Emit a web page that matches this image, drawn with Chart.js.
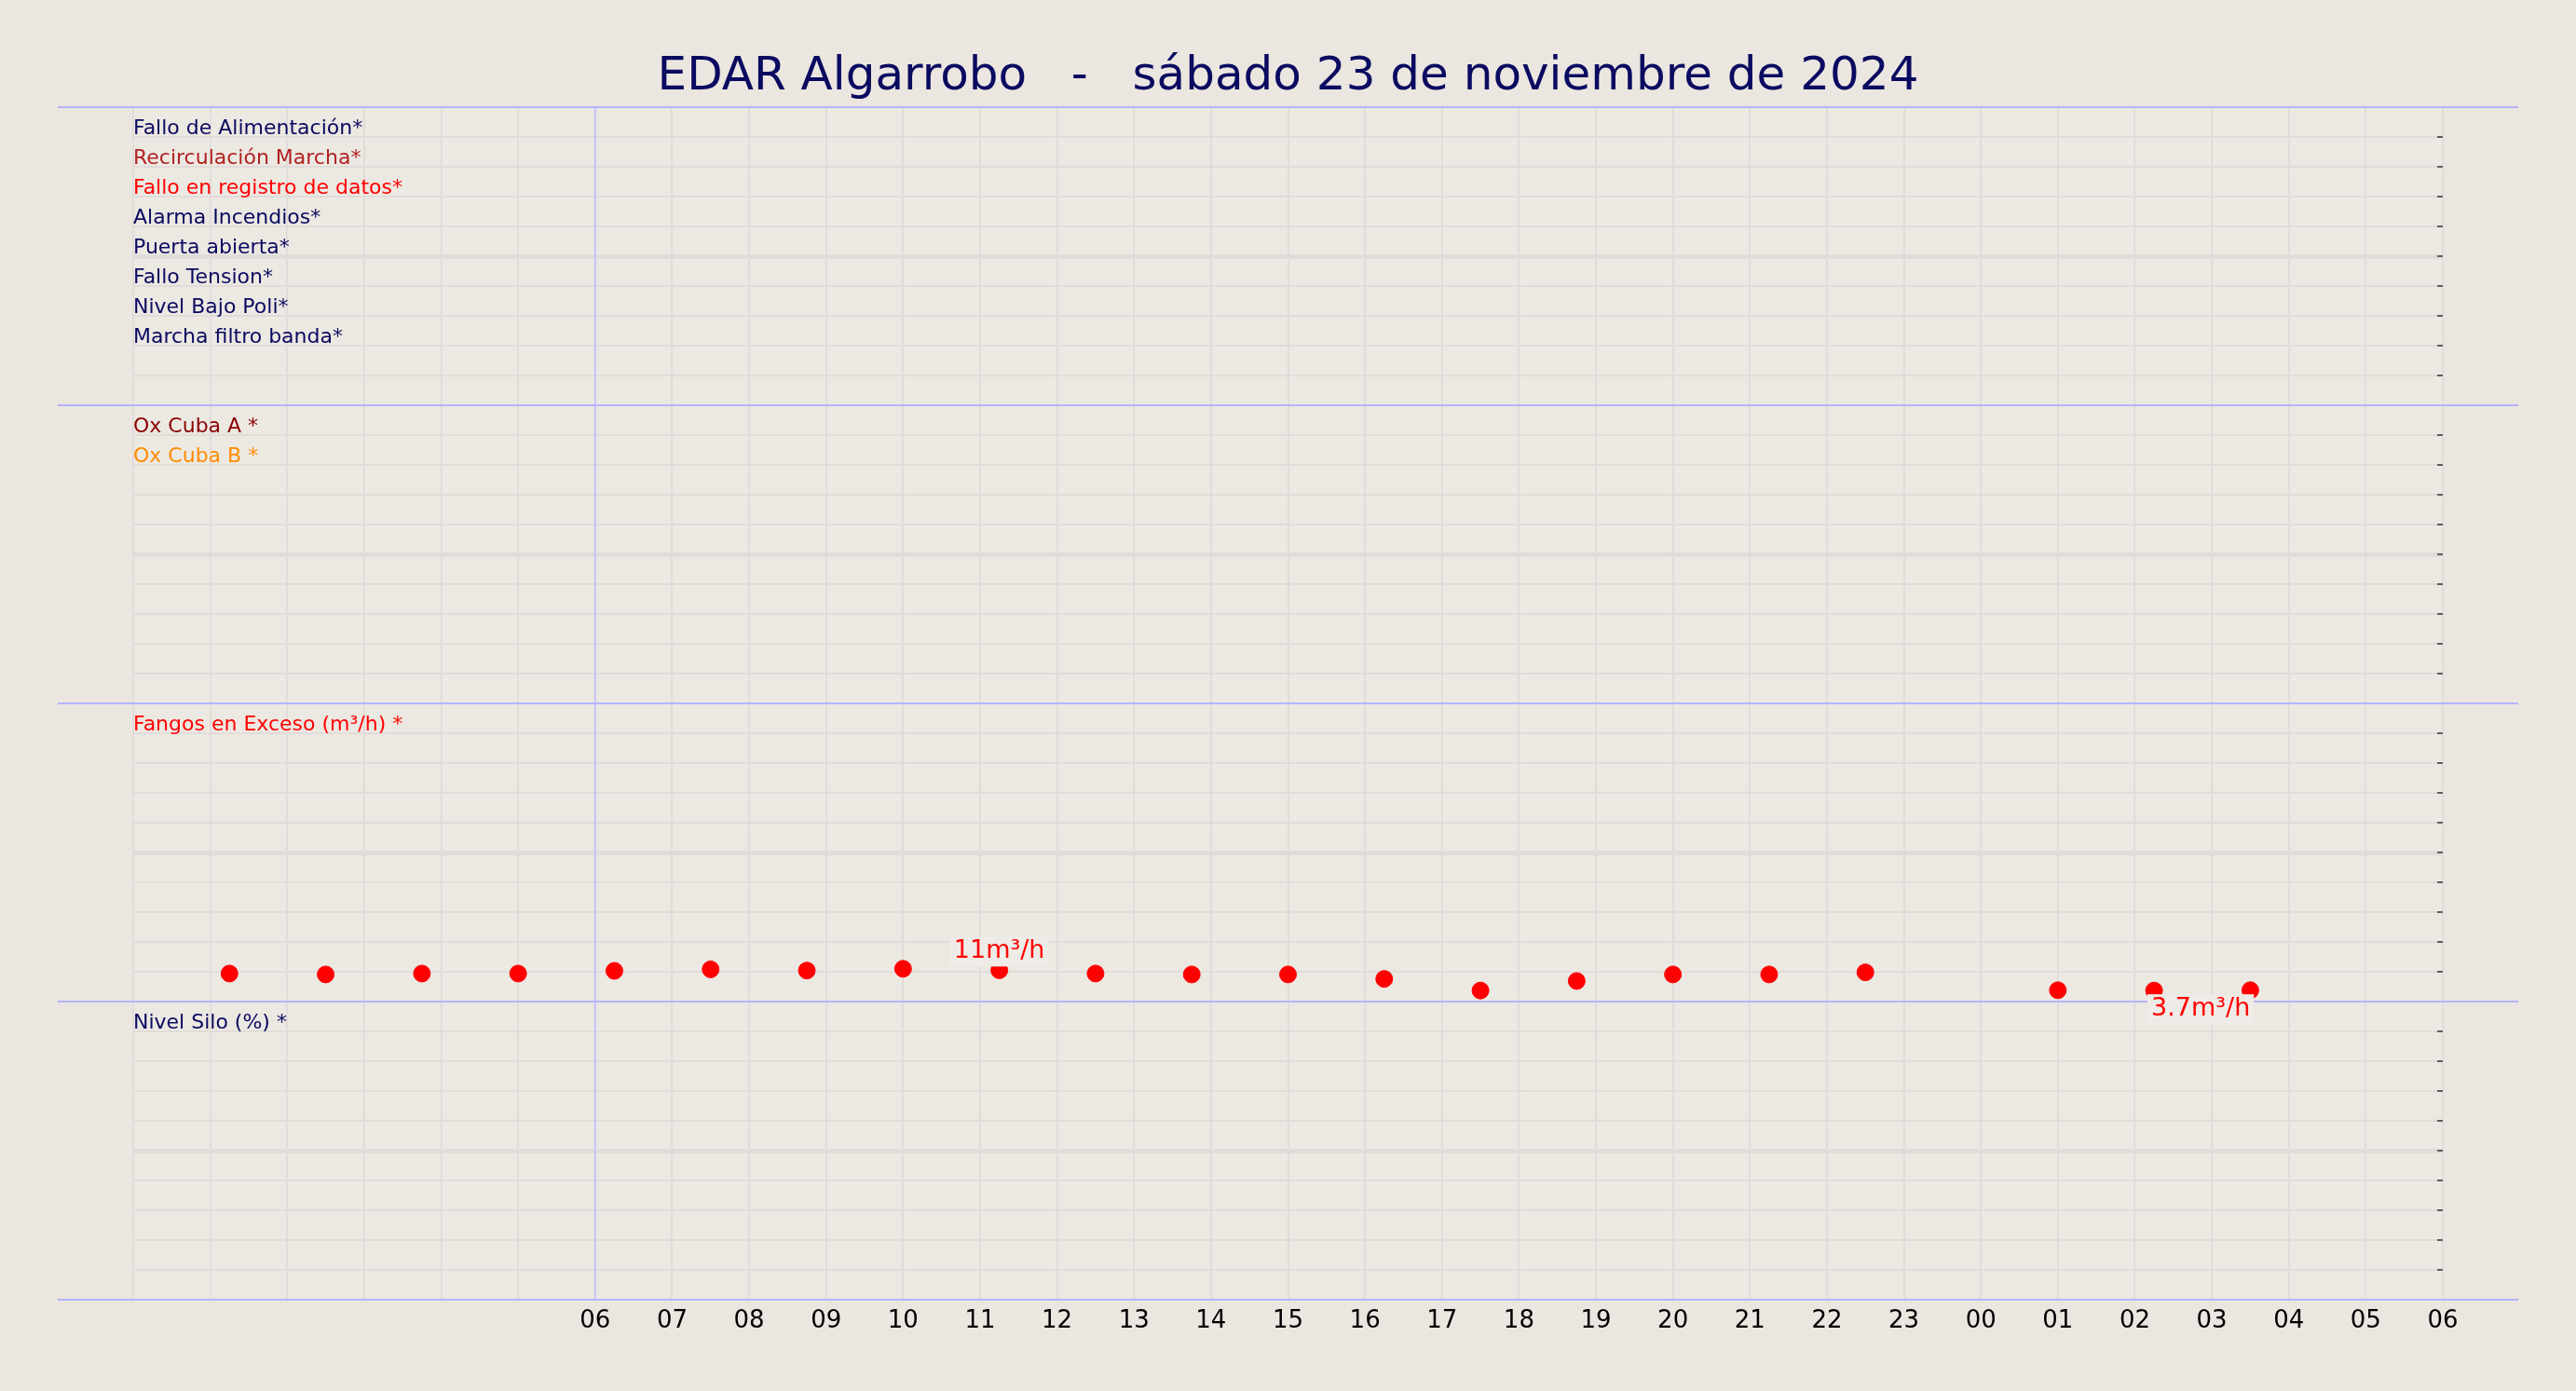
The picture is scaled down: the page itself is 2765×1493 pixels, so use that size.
<!DOCTYPE html>
<html><head><meta charset="utf-8">
<script src="https://cdn.jsdelivr.net/npm/chart.js@4/dist/chart.umd.min.js"></script>
<style>html,body{margin:0;padding:0;background:#ebe6e0;}#c{display:block}</style>
</head><body>
<div style="width:2765px;height:1493px;position:relative"><canvas id="c"></canvas></div>
<script>
const titleText = "EDAR Algarrobo   -   sábado 23 de noviembre de 2024";
const panel1Names = ["Fallo de Alimentación*","Recirculación Marcha*","Fallo en registro de datos*","Alarma Incendios*","Puerta abierta*","Fallo Tension*","Nivel Bajo Poli*","Marcha filtro banda*"];
const panel1Colors = ["#0a0a60","#b22222","#ff0000","#0a0a60","#0a0a60","#0a0a60","#0a0a60","#0a0a60"];
const panel2Names = ["Ox Cuba A *","Ox Cuba B *"];
const panel2Colors = ["#8b0000","#ff8c00"];
const panel3Names = ["Fangos en Exceso (m³/h) *"];
const panel3Colors = ["#ff0000"];
const panel4Names = ["Nivel Silo (%) *"];
const panel4Colors = ["#0a0a60"];
const fangosHours = [1.25,2.5,3.75,5,6.25,7.5,8.75,10,11.25,12.5,13.75,15,16.25,17.5,18.75,20,21.25,22.5,25,26.25,27.5];
const fangosValues = [9.4,9.1,9.4,9.4,10.3,10.8,10.4,11,10.5,9.4,9.1,9.1,7.6,3.7,6.9,9.1,9.1,9.8,3.8,3.7,3.8];
const annotations = [{idx:8,text:"11m³/h",above:true,dx:0},{idx:19,text:"3.7m³/h",above:false,dx:50}];

const FONT = "'DejaVu Sans', sans-serif";
const panels = [
  {axis:'y0',names:panel1Names,colors:panel1Colors},
  {axis:'y1',names:panel2Names,colors:panel2Colors},
  {axis:'y2',names:panel3Names,colors:panel3Colors},
  {axis:'y3',names:panel4Names,colors:panel4Colors}];

function yAxis(){
  return {type:'linear',position:'left',stack:'p',stackWeight:1,min:0,max:100,
    ticks:{display:false,stepSize:10},border:{display:false},
    grid:{drawTicks:false,color:'#e1dcd9',lineWidth:c=>c.tick&&c.tick.value===50?5:2},
    afterFit:s=>{s.width=0;}};
}
const deco = {
  id:'deco',
  beforeDraw(chart){
    const {ctx,chartArea:a}=chart;
    ctx.save();ctx.fillStyle='#ece8e2';ctx.fillRect(a.left,a.top,a.right-a.left,a.bottom-a.top);ctx.restore();
  },
  afterDatasetsDraw(chart){
    const {ctx,chartArea:a,scales}=chart;
    ctx.save();
    const x6=scales.x.getPixelForValue(6);
    ctx.strokeStyle='#c4c4fa';ctx.lineWidth=2;
    ctx.beginPath();ctx.moveTo(x6,a.top);ctx.lineTo(x6,a.bottom);ctx.stroke();
    ctx.strokeStyle='#b4b4ff';ctx.lineWidth=2;
    panels.forEach(p=>{const s=scales[p.axis];
      [s.top,s.bottom].forEach(y=>{ctx.beginPath();ctx.moveTo(62,y);ctx.lineTo(2703,y);ctx.stroke();});});
    ctx.strokeStyle='#333';ctx.lineWidth=1.5;
    panels.forEach(p=>{const s=scales[p.axis];
      for(let v=10;v<100;v+=10){const y=s.getPixelForValue(v);ctx.beginPath();ctx.moveTo(a.right-6,y);ctx.lineTo(a.right,y);ctx.stroke();}});
    ctx.font="22px "+FONT;ctx.textBaseline='middle';ctx.textAlign='left';
    panels.forEach(p=>{const s=scales[p.axis];const step=(s.bottom-s.top)/10;
      p.names.forEach((n,i)=>{ctx.fillStyle=p.colors[i];ctx.fillText(n,a.left,s.top+step*(i+0.72));});});
    ctx.font="27px "+FONT;ctx.textAlign='center';
    annotations.forEach(an=>{
      const x=scales.x.getPixelForValue(fangosHours[an.idx])+an.dx;
      const y=scales.y2.getPixelForValue(fangosValues[an.idx]);
      const ty=an.above?y-20:y+20;
      const w=ctx.measureText(an.text).width;
      ctx.fillStyle='#efebe6';ctx.fillRect(x-w/2-4,ty-16,w+8,32);
      ctx.fillStyle='#ff0000';ctx.fillText(an.text,x,ty);});
    ctx.fillStyle='#0a0a60';ctx.font="50px "+FONT;ctx.textAlign='center';
    ctx.fillText(titleText,(a.left+a.right)/2,83);
    ctx.restore();
  }
};
new Chart(document.getElementById('c'),{
  type:'scatter',
  data:{datasets:[{label:'Fangos',xAxisID:'x',yAxisID:'y2',
    data:fangosHours.map((h,i)=>({x:h,y:fangosValues[i]})),
    pointRadius:9,pointHoverRadius:9,backgroundColor:'#ff0000',borderColor:'#ff0000'}]},
  options:{responsive:true,maintainAspectRatio:false,animation:false,devicePixelRatio:1,
    layout:{padding:{left:143,right:143,top:115,bottom:0}},
    plugins:{legend:{display:false},tooltip:{enabled:false}},
    scales:{
      x:{type:'linear',min:0,max:30,
        ticks:{stepSize:1,autoSkip:false,maxRotation:0,color:'#000',font:{family:FONT,size:26},padding:8,
          callback:v=>v>=6?String(v%24).padStart(2,'0'):''},
        grid:{color:'#e1dcd9',lineWidth:2,drawTicks:false},border:{display:false},
        afterFit:s=>{s.height=98;}},
      y3:yAxis(),y2:yAxis(),y1:yAxis(),y0:yAxis()}
  },
  plugins:[deco]
});
</script></body></html>
